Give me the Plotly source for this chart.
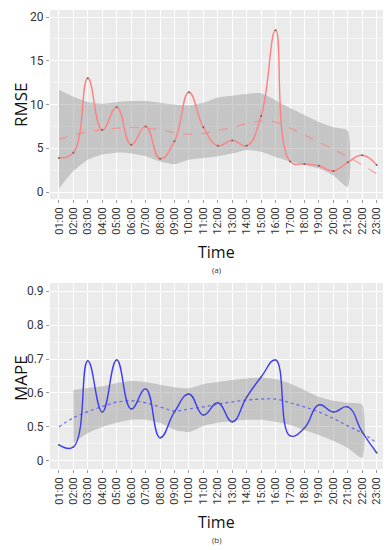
import plotly.graph_objects as go

hours = list(range(1, 24))
hour_labels = [f"{h:02d}:00" for h in hours]

rmse = [3.9, 4.5, 13.0, 7.1, 9.7, 5.4, 7.5, 3.8, 5.8, 11.4, 7.4, 5.3, 5.9, 5.3, 8.7, 18.5,
        3.5, 3.2, 3.0, 2.4, 3.4, 4.2, 3.1]
rmse_trend = [6.0, 6.5, 6.9, 7.1, 7.3, 7.4, 7.3, 7.1, 6.8, 6.6, 6.7, 7.0, 7.4, 7.8, 8.1, 8.0,
              7.3, 6.5, 5.7, 4.9, 4.0, 3.1, 2.1]
band_hours_a = list(range(1, 22))
rmse_upper = [11.7, 10.9, 10.3, 10.1, 10.3, 10.4, 10.4, 10.2, 10.0, 9.9, 10.2, 10.8, 11.0, 11.2,
              11.3, 10.5, 9.6, 8.8, 8.0, 7.4, 7.0]
rmse_lower = [0.4, 2.4, 3.7, 4.3, 4.5, 4.4, 4.1, 3.5, 3.2, 3.7, 3.9, 4.1, 4.4, 4.8, 4.6, 4.0,
              3.5, 3.1, 2.7, 1.9, 0.6]

mape = [0.447, 0.441, 0.694, 0.544, 0.697, 0.553, 0.612, 0.468, 0.544, 0.597, 0.535, 0.571,
        0.515, 0.588, 0.647, 0.697, 0.474, 0.497, 0.565, 0.544, 0.559, 0.485, 0.424]
mape_trend = [0.500, 0.527, 0.545, 0.560, 0.573, 0.577, 0.571, 0.559, 0.547, 0.553, 0.559, 0.567,
              0.574, 0.579, 0.582, 0.582, 0.571, 0.559, 0.544, 0.525, 0.503, 0.482, 0.453]
band_hours_b = list(range(2, 23))
mape_upper = [0.609, 0.615, 0.620, 0.629, 0.635, 0.632, 0.624, 0.617, 0.614, 0.626, 0.632, 0.638,
              0.643, 0.645, 0.641, 0.628, 0.609, 0.589, 0.577, 0.571, 0.565]
mape_lower = [0.453, 0.482, 0.500, 0.512, 0.521, 0.521, 0.512, 0.491, 0.485, 0.503, 0.512, 0.518,
              0.521, 0.521, 0.515, 0.506, 0.491, 0.476, 0.459, 0.438, 0.409]

rmse_ticks = [0, 5, 10, 15, 20]
mape_tickvals = [0.4, 0.5, 0.6, 0.7, 0.8, 0.9]
mape_ticktext = ["0", "0.5", "0.6", "0.7", "0.8", "0.9"]

FONT = "Open Sans"
TICKFONT = "Roboto"
BAND = "rgba(150,150,150,0.45)"
RED = "#FF8080"
BLUE = "#3B3BF5"

# page body has an 8px margin: the figure is 384x542 placed at (8, 8)
OFF = 8
W, H = 392 - OFF, 550 - OFF


def px(x):
    return (x - OFF) / W


def py(y):
    return 1 - (y - OFF) / H


fig = go.Figure()


def add_panel(xa, ya, bh, up, lo, vals, trend, color, dash):
    fig.add_trace(go.Scatter(x=bh + bh[::-1], y=up + lo[::-1], fill="toself", fillcolor=BAND,
                             line=dict(width=0, shape="spline", smoothing=0.6), mode="lines",
                             hoverinfo="skip", showlegend=False, xaxis=xa, yaxis=ya))
    fig.add_trace(go.Scatter(x=hours, y=trend, mode="lines",
                             line=dict(color=color, width=1.2, dash=dash, shape="spline"),
                             opacity=0.7, showlegend=False, xaxis=xa, yaxis=ya))
    fig.add_trace(go.Scatter(x=hours, y=vals, mode="lines",
                             line=dict(color=color, width=1.4, shape="spline", smoothing=1.3),
                             showlegend=False, xaxis=xa, yaxis=ya))
    fig.add_trace(go.Scatter(x=hours, y=vals, mode="markers",
                             marker=dict(color="#666666", size=2), showlegend=False,
                             xaxis=xa, yaxis=ya))


add_panel("x", "y", band_hours_a, rmse_upper, rmse_lower, rmse, rmse_trend, RED, "dash")
add_panel("x2", "y2", band_hours_b, mape_upper, mape_lower, mape, mape_trend, BLUE, "dot")

xcommon = dict(tickmode="array", tickvals=hours, ticktext=hour_labels, tickangle=-90,
               range=[0.38, 23.44], showgrid=True, gridcolor="white", gridwidth=1,
               zeroline=False, ticks="outside", ticklen=3, tickcolor="#999999",
               tickfont=dict(family=TICKFONT, size=11, color="#333333"), showline=False,
               automargin=False, domain=[px(50), px(383)])

ycommon = dict(showgrid=True, gridcolor="white", zeroline=False, ticks="outside", ticklen=3,
               tickcolor="#999999", tickfont=dict(family=TICKFONT, size=12, color="#333333"),
               automargin=False)

fig.update_layout(
    width=W, height=H, margin=dict(l=0, r=0, t=0, b=0, autoexpand=False),
    paper_bgcolor="white", plot_bgcolor="#EBEBEB",
    font=dict(family=FONT, color="#222222"),
    xaxis=dict(**xcommon, anchor="y"),
    xaxis2=dict(**xcommon, anchor="y2"),
    yaxis=dict(**ycommon, domain=[py(199), py(10)], range=[-0.8, 20.8],
               tickvals=rmse_ticks,
               minor=dict(tickvals=[2.5, 7.5, 12.5, 17.5], showgrid=True,
                          gridcolor="#F5F5F5", gridwidth=0.6)),
    yaxis2=dict(**ycommon, domain=[py(469), py(283)], range=[0.376, 0.924],
                tickvals=mape_tickvals, ticktext=mape_ticktext,
                minor=dict(tickvals=[0.45, 0.55, 0.65, 0.75, 0.85], showgrid=True,
                           gridcolor="#F5F5F5", gridwidth=0.6)),
)

for yc, ylab in [(105, "RMSE"), (378, "MAPE")]:
    fig.add_annotation(x=px(20), y=py(yc), xref="paper", yref="paper", text=ylab,
                       textangle=-90, showarrow=False, xanchor="center", yanchor="middle",
                       font=dict(family=FONT, size=17, color="#111111"))

for ytitle, ylab, lab in [(252, 269, "(a)"), (522, 539, "(b)")]:
    fig.add_annotation(x=px((50 + 383) / 2), y=py(ytitle), xref="paper", yref="paper",
                       text="Time", showarrow=False, xanchor="center", yanchor="middle",
                       font=dict(family=FONT, size=16, color="#111111"))
    fig.add_annotation(x=px((50 + 383) / 2), y=py(ylab), xref="paper", yref="paper",
                       text=lab, showarrow=False, xanchor="center", yanchor="middle",
                       font=dict(family=FONT, size=8, color="#333333"))

fig.write_html("out.html")
